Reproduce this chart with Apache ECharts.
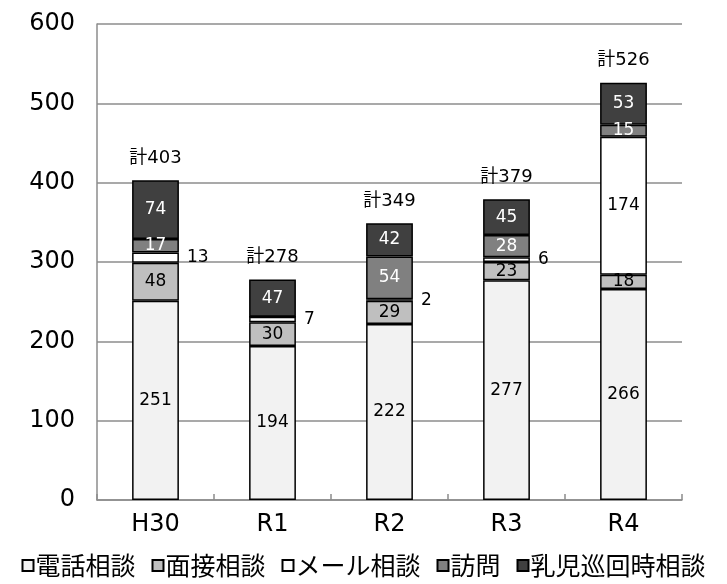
<!DOCTYPE html>
<html><head><meta charset="utf-8">
<script src="https://cdn.jsdelivr.net/npm/echarts@6/dist/echarts.min.js"></script>
<style>html,body{margin:0;padding:0;background:#fff}#c{width:727px;height:584px}</style>
</head><body><div id="c"></div>
<script>
const categories = ['H30','R1','R2','R3','R4'];
const denwa = [251,194,222,277,266];
const mensetsu = [48,30,29,23,18];
const mail = [13,7,2,6,174];
const houmon = [17,0,54,28,15];
const nyuji = [74,47,42,45,53];
const seriesNames = ['電話相談','面接相談','メール相談','訪問','乳児巡回時相談'];
const yTicks = [0,100,200,300,400,500,600];

const totals = categories.map((c,i)=>denwa[i]+mensetsu[i]+mail[i]+houmon[i]+nyuji[i]);
const FONT = '"DejaVu Sans", "Noto Sans CJK JP", sans-serif';
const JFONT = '"Noto Sans CJK JP", sans-serif';
const colors = ['#f2f2f2','#bfbfbf','#ffffff','#808080','#404040'];
const labelColors = ['#000','#000','#000','#fff','#fff'];
const datas = [denwa,mensetsu,mail,houmon,nyuji];

function mk(idx){
  return {
    name: seriesNames[idx], type:'bar', stack:'a', barWidth:'40%',
    itemStyle:{color:colors[idx], borderColor:'#000', borderWidth:1.5},
    data: datas[idx].map(v=>{
      const d = {value:v};
      if (v===0) d.label = {show:false};
      else if (v<14) d.label = {position:'right', color:'#000', distance:8};
      return d;
    }),
    label:{show:true, position:'inside', color:labelColors[idx], fontSize:17, fontFamily:FONT},
    emphasis:{disabled:true}
  };
}
const series = [0,1,2,3,4].map(mk);
series.push({
  name:'total', type:'bar', stack:'a', barWidth:'40%',
  data: totals.map(()=>0),
  itemStyle:{color:'transparent'},
  label:{show:true, position:'top', distance:13, color:'#000', fontSize:18, fontFamily:FONT,
    formatter: p=>'計'+totals[p.dataIndex]},
  emphasis:{disabled:true}
});

const chart = echarts.init(document.getElementById('c'));
chart.setOption({
  animation:false,
  grid:{left:97, right:45, top:24, bottom:84},
  legend:{
    data: seriesNames, bottom:1, left:'center', itemWidth:11, itemHeight:11, itemGap:16,
    icon:'rect',
    textStyle:{fontSize:25, fontFamily:JFONT, color:'#000', padding:[0,0,0,-3]}
  },
  xAxis:{
    type:'category', data:categories,
    axisLine:{lineStyle:{color:'#8c8c8c', width:1.5}},
    axisTick:{show:true, inside:true, length:6, lineStyle:{color:'#8c8c8c', width:1.5}},
    axisLabel:{fontSize:24, fontFamily:FONT, color:'#000', margin:13}
  },
  yAxis:{
    type:'value', min:0, max:600, interval:100,
    axisLine:{show:true, lineStyle:{color:'#8c8c8c', width:1.5}},
    axisTick:{show:false},
    splitLine:{lineStyle:{color:'#8c8c8c', width:1.5}},
    axisLabel:{fontSize:24, fontFamily:FONT, color:'#000', margin:22,
      formatter: v=> yTicks.includes(v)? String(v):''}
  },
  series
});
</script></body></html>
